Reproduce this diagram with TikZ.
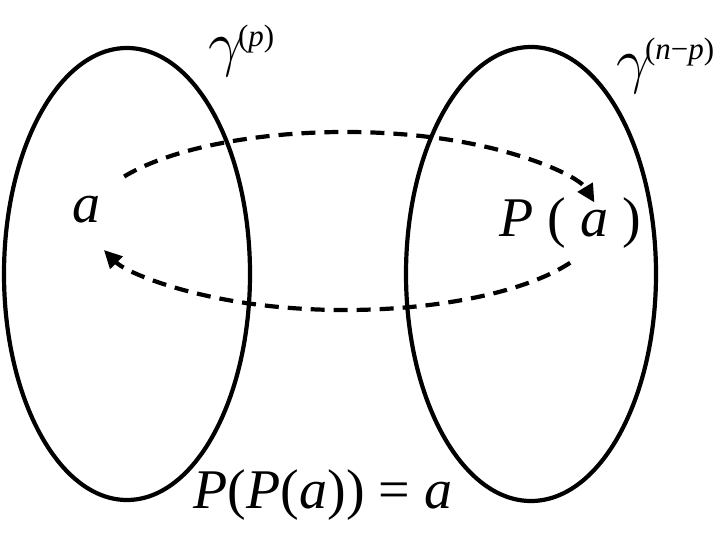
\RequirePackage{fix-cm}
\documentclass[tikz,border=0pt]{standalone}
\usepackage{fontspec}
\setmainfont{Liberation Serif}
\usetikzlibrary{arrows.meta,shapes.geometric}
\newcommand{\supsize}{\fontsize{31}{36}\selectfont}
\newcommand{\gamsize}{\fontsize{62}{70}\selectfont}

\tikzset{
    setshape/.style={ellipse, draw, line width=4.2pt, minimum width=246pt, minimum height=452pt, inner sep=0pt},
    mapline/.style={line width=4.2pt, dash pattern=on 14pt off 9pt, -{Triangle[length=18pt,width=17pt]}},
    lbl/.style={inner sep=0pt, anchor=base, font=\fontsize{56}{64}\selectfont},
}

\begin{document}
\begin{tikzpicture}[x=1pt,y=1pt]
    \useasboundingbox (0,0) rectangle (725,533);

    \node[setshape] (lset) at (127,259) {};
    \node[setshape, minimum width=250pt, minimum height=454pt] (rset) at (531,259) {};

    \coordinate (loop) at (345,312);
    \draw[mapline] (loop) ++(150:255pt and 89pt) arc[start angle=150, end angle=12, x radius=255pt, y radius=89pt];
    \draw[mapline] (loop) ++(-28:255pt and 89pt) arc[start angle=-28, end angle=-161, x radius=255pt, y radius=89pt];

    \node[lbl] (a) at (86,310) {\textit{a}};
    \node[lbl] (Pa) at (570,296) {\textit{P} ( \textit{a} )};
    \node[lbl] (eq) at (323,25) {\textit{P}(\textit{P}(\textit{a})) = \textit{a}};
    \node[lbl, anchor=base west] (gp) at (208,468) {\gamsize$\gamma$\kern-5pt\raisebox{18pt}{\supsize(\textit{p})}};
    \node[lbl, anchor=base west] (gnp) at (616,451) {\gamsize$\gamma$\kern-6pt\raisebox{22pt}{\supsize(\textit{n}−\textit{p})}};
\end{tikzpicture}
\end{document}
